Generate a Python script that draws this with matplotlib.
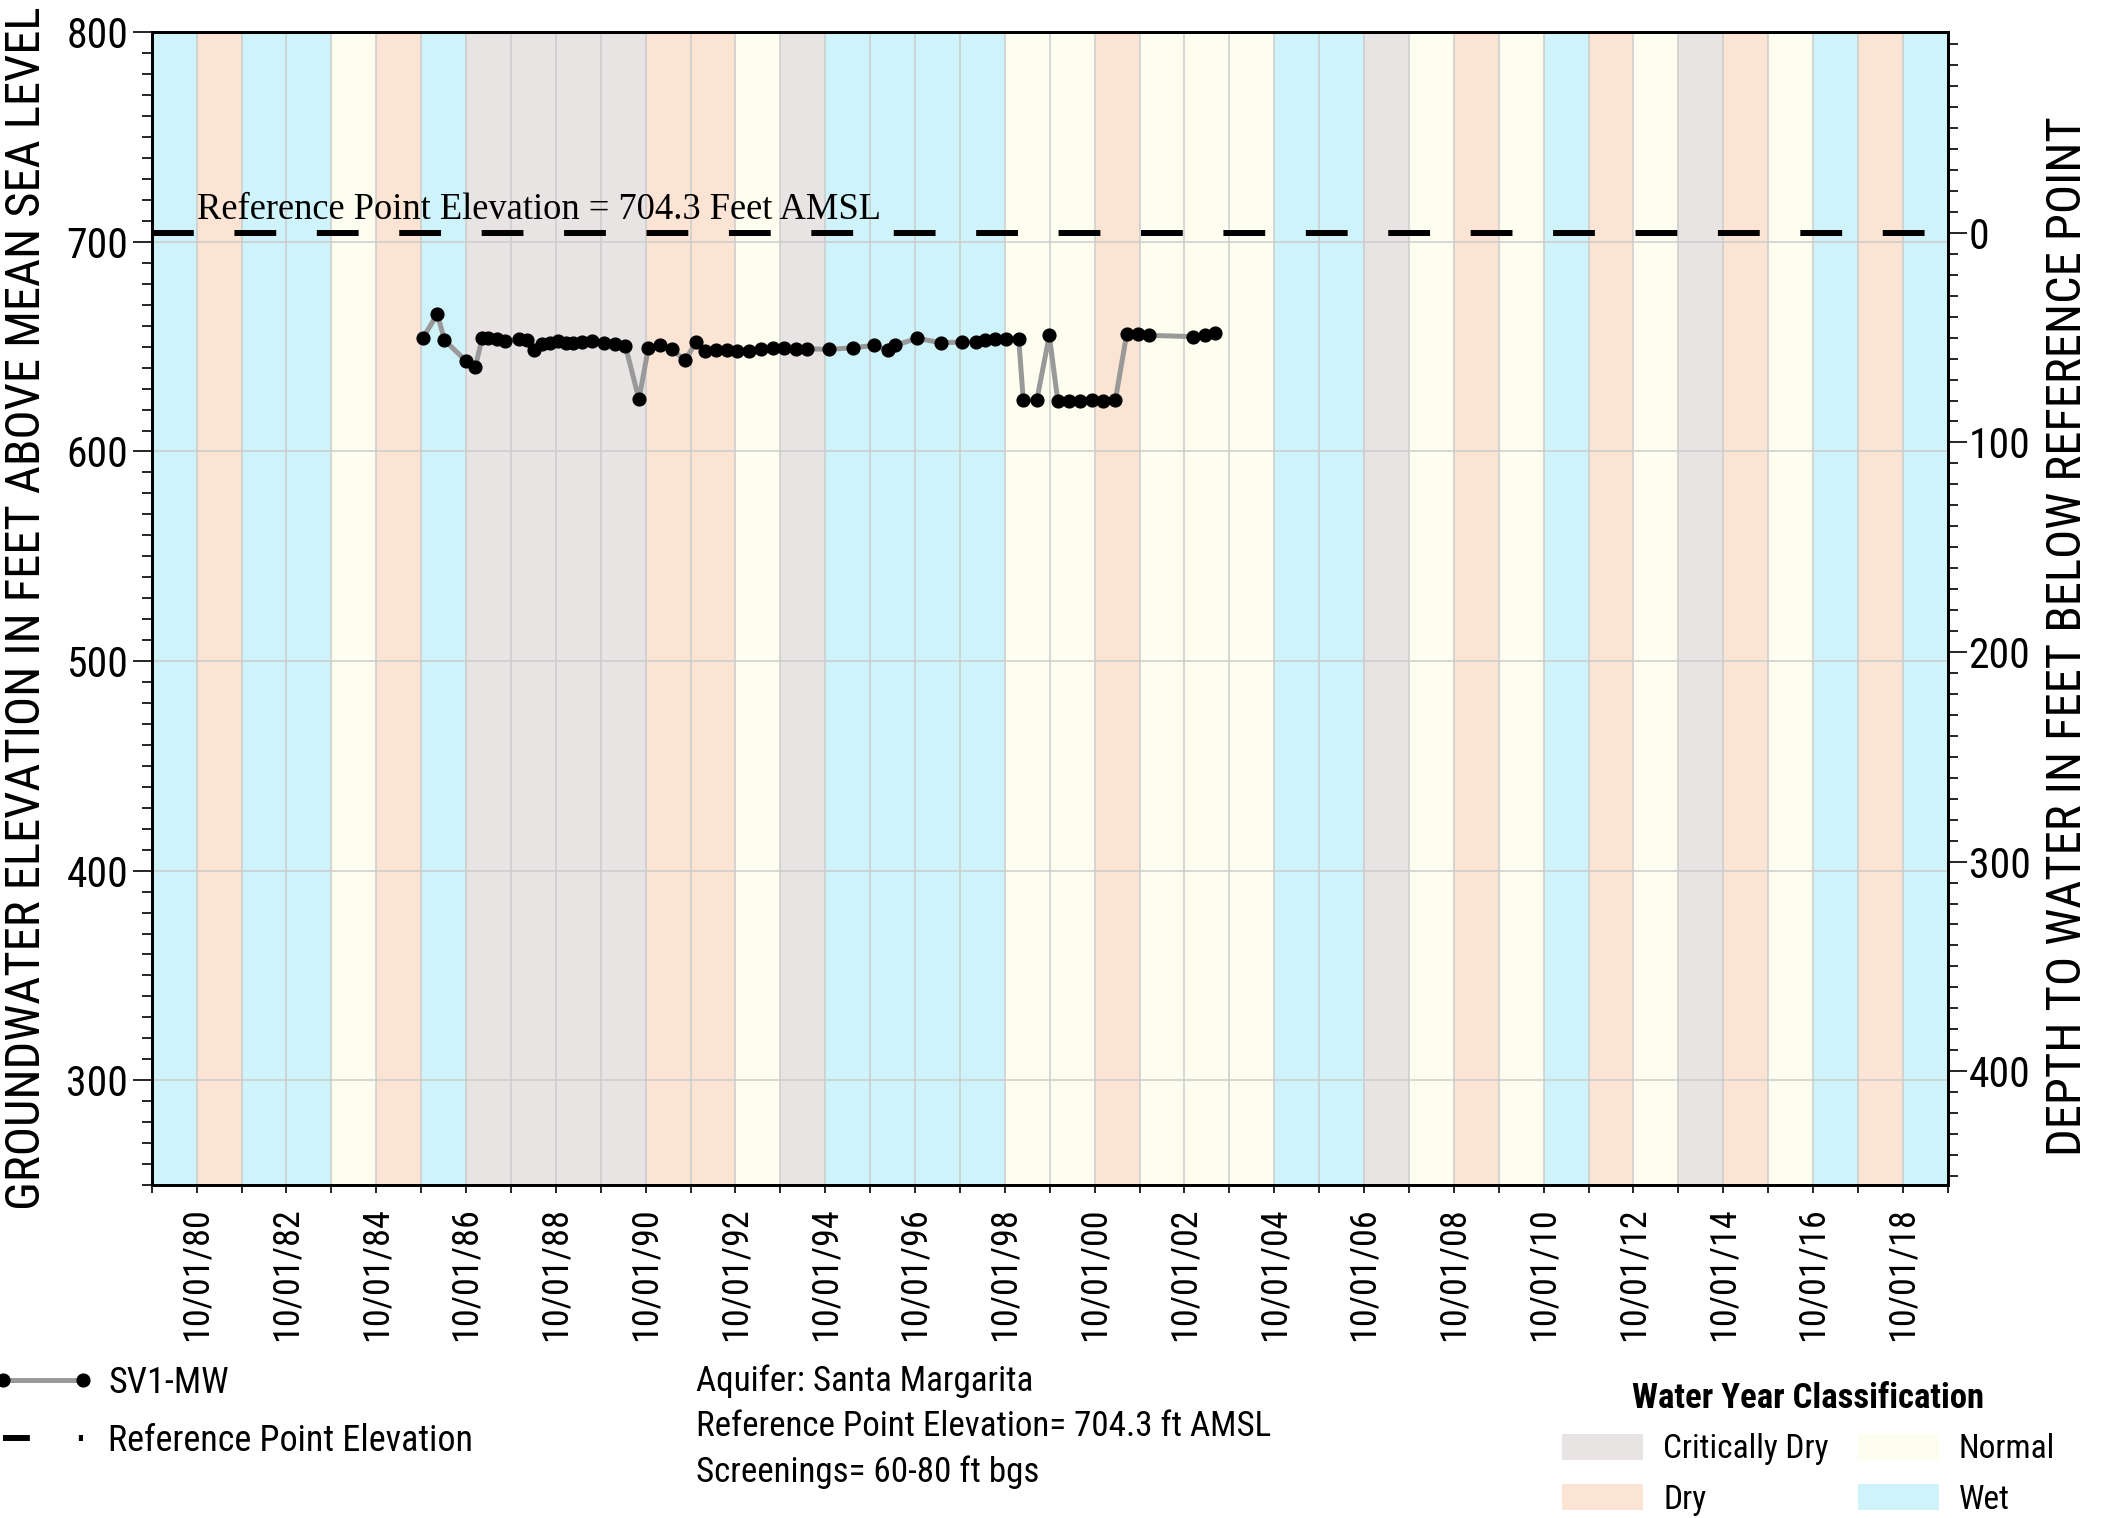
import datetime as dt

import matplotlib
matplotlib.use("Agg")
import matplotlib.dates as mdates
import matplotlib.pyplot as plt
import pandas as pd
from matplotlib import font_manager
from matplotlib.legend_handler import HandlerLine2D
from matplotlib.patches import Patch
from matplotlib.ticker import MultipleLocator

REF_ELEV = 704.3

sample_dates = [
    "1985-10-16", "1986-02-10", "1986-04-08", "1986-10-01", "1986-12-16",
    "1987-02-10", "1987-04-01", "1987-06-10", "1987-08-11", "1987-12-02",
    "1988-02-06", "1988-04-08", "1988-06-10", "1988-08-11", "1988-10-16",
    "1988-12-20", "1989-02-21", "1989-05-01", "1989-07-20", "1989-10-30",
    "1990-01-26", "1990-04-20", "1990-08-08", "1990-10-23", "1991-01-22",
    "1991-05-01", "1991-08-19", "1991-11-14", "1992-01-26", "1992-04-27",
    "1992-07-24", "1992-10-16", "1993-01-15", "1993-04-27", "1993-07-31",
    "1993-11-03", "1994-02-06", "1994-05-08", "1994-11-03", "1995-05-12",
    "1995-11-03", "1996-02-21", "1996-04-23", "1996-10-16", "1997-04-27",
    "1997-10-16", "1998-02-10", "1998-04-23", "1998-07-13", "1998-10-12",
    "1999-01-22", "1999-02-28", "1999-06-18", "1999-09-28", "1999-12-06",
    "2000-03-03", "2000-06-03", "2000-09-06", "2000-12-10", "2001-03-18",
    "2001-06-18", "2001-09-16", "2001-12-20", "2002-12-06", "2003-03-18",
    "2003-06-07",
]
gw_elev = [
    654.3, 665.5, 653.2, 643.1, 640.4, 654.3, 654.3, 653.8, 652.7, 653.5,
    653.2, 648.4, 651.4, 651.6, 652.7, 651.9, 651.9, 652.2, 652.7, 651.6,
    651.1, 650.3, 624.8, 649.5, 650.6, 648.7, 643.5, 652.2, 647.9, 648.4,
    648.4, 647.9, 647.9, 648.7, 649.5, 649.5, 648.7, 649.0, 648.7, 649.5,
    650.6, 648.4, 650.6, 654.0, 651.9, 652.2, 652.2, 653.2, 653.5, 653.8,
    653.8, 624.5, 624.5, 655.4, 624.0, 624.0, 624.0, 624.5, 624.0, 624.5,
    655.9, 655.9, 655.4, 654.8, 655.4, 656.4,
]

# water years 1980 .. 2019 (WY runs 10/01 of previous year to 09/30)
water_years = list(range(1980, 2020))
wy_class = [
    "Wet", "Dry", "Wet", "Wet", "Normal", "Dry", "Wet", "Critically Dry",
    "Critically Dry", "Critically Dry", "Critically Dry", "Dry", "Dry", "Normal",
    "Critically Dry", "Wet", "Wet", "Wet", "Wet", "Normal", "Normal", "Dry",
    "Normal", "Normal", "Normal", "Wet", "Wet", "Critically Dry", "Normal", "Dry",
    "Normal", "Wet", "Dry", "Normal", "Critically Dry", "Dry", "Normal", "Wet",
    "Dry", "Wet",
]
class_order = ["Critically Dry", "Dry", "Normal", "Wet"]
class_colors = {
    "Critically Dry": "#E8E4E4",
    "Dry": "#FCE4D4",
    "Normal": "#FEFEF0",
    "Wet": "#CFF3FB",
}

info_lines = [
    "Aquifer: Santa Margarita",
    "Reference Point Elevation= 704.3 ft AMSL",
    "Screenings= 60-80 ft bgs",
]

# pick a narrow sans if one is installed, otherwise shrink regular sans
_names = {f.name for f in font_manager.fontManager.ttflist}
NARROW = next((n for n in ("Liberation Sans Narrow", "Arial Narrow", "Roboto Condensed")
               if n in _names), None)
if NARROW:
    SANS, K = NARROW, 1.0
else:
    SANS, K = "Liberation Sans", 0.84
plt.rcParams["font.family"] = [SANS, "DejaVu Sans"]

W, H, DPI = 2108, 1518, 100


def em(px, size):
    # pixel length expressed in font-size units
    return px / (size * DPI / 72)


def legend_dashes(handle, orig):
    handle.update_from(orig)
    handle.set_dashes([4.5, 8.2])


fig = plt.figure(figsize=(W / DPI, H / DPI), dpi=DPI)
ax = fig.add_axes([151.7 / W, 1 - 1185 / H, 1796 / W, (1185 - 32.3) / H])

for wy, cls in zip(water_years, wy_class):
    ax.axvspan(dt.date(wy - 1, 10, 1), dt.date(wy, 10, 1), color=class_colors[cls],
               lw=0, zorder=0)

(gw_line,) = ax.plot(pd.to_datetime(sample_dates), gw_elev, color="#999999", lw=3.6,
                     marker="o", ms=9.2, mfc="black", mec="black", zorder=3)
ref_line = ax.axhline(REF_ELEV, color="black", lw=4.3, ls=(0, (7.0, 6.8)),
                      dash_capstyle="butt", zorder=2)
ax.text(dt.date(1980, 10, 1), 711, "Reference Point Elevation = 704.3 Feet AMSL",
        family="Liberation Serif", fontsize=26.3, ha="left", va="baseline", zorder=4)

ax.set_xlim(dt.date(1979, 10, 1), dt.date(2019, 10, 1))
ax.set_ylim(250, 800)
ax.xaxis.set_major_locator(mdates.YearLocator(2, month=10, day=1))
ax.xaxis.set_minor_locator(mdates.YearLocator(1, month=10, day=1))
ax.xaxis.set_major_formatter(mdates.DateFormatter("%m/%d/%y"))
ax.set_yticks(range(300, 801, 100))
ax.yaxis.set_minor_locator(MultipleLocator(10))

ax.set_axisbelow(True)
ax.grid(axis="x", which="both", color="#CCCCCC", lw=1.1)
ax.grid(axis="y", which="major", color="#CCCCCC", lw=1.1)

ax.tick_params(axis="y", which="major", direction="out", length=14, width=1.2,
               labelsize=30 * K, pad=3)
ax.tick_params(axis="y", which="minor", direction="out", length=7, width=1.2)
ax.tick_params(axis="x", which="both", direction="out", length=6, width=1.2,
               labelsize=26 * K, pad=10, labelrotation=90)

ax2 = ax.twinx()
ax2.set_ylim(REF_ELEV - 250, REF_ELEV - 800)
ax2.set_yticks([0, 100, 200, 300, 400])
ax2.yaxis.set_minor_locator(MultipleLocator(10))
ax2.tick_params(axis="y", which="major", direction="out", length=14, width=1.2,
                labelsize=30 * K, pad=1)
ax2.tick_params(axis="y", which="minor", direction="out", length=7, width=1.2)

for a in (ax, ax2):
    for s in a.spines.values():
        s.set_linewidth(2.0)

ax.set_ylabel("GROUNDWATER ELEVATION IN FEET ABOVE MEAN SEA LEVEL", fontsize=35 * K)
ax.yaxis.set_label_coords(-0.0566, 0.5)
ax2.set_ylabel("DEPTH TO WATER IN FEET BELOW REFERENCE POINT", fontsize=35 * K)
ax2.yaxis.set_label_coords(1.0542, 0.476)

# series legend, bottom left
fs_leg = 26 * K
fig.legend(handles=[gw_line, ref_line], labels=["SV1-MW", "Reference Point Elevation"],
           loc="upper left", bbox_to_anchor=(-8 / W, 1 - 1365 / H), frameon=False,
           fontsize=fs_leg, numpoints=2, handlelength=em(102, fs_leg),
           handletextpad=em(14, fs_leg), labelspacing=0.6, borderpad=0, borderaxespad=0,
           handler_map={ref_line: HandlerLine2D(update_func=legend_dashes)})

# well info
for i, line in enumerate(info_lines):
    fig.text(696 / W, 1 - (1381 + 45.5 * i) / H, line, fontsize=25.2 * K, va="center")

# water year classification legend
fs_wy = 24 * K
wy_handles = [Patch(facecolor=class_colors[c], edgecolor="none", label=c) for c in class_order]
fig.legend(handles=wy_handles, loc="upper left", bbox_to_anchor=(1562 / W, 1 - 1382 / H),
           ncol=2, frameon=False, fontsize=fs_wy, title="Water Year Classification",
           title_fontproperties={"weight": "bold", "size": 25 * K},
           handlelength=em(81, fs_wy), handleheight=em(27, fs_wy),
           handletextpad=em(20, fs_wy), columnspacing=em(29, fs_wy),
           labelspacing=0.55, borderpad=0, borderaxespad=0)

fig.savefig("out.png", dpi=DPI)
